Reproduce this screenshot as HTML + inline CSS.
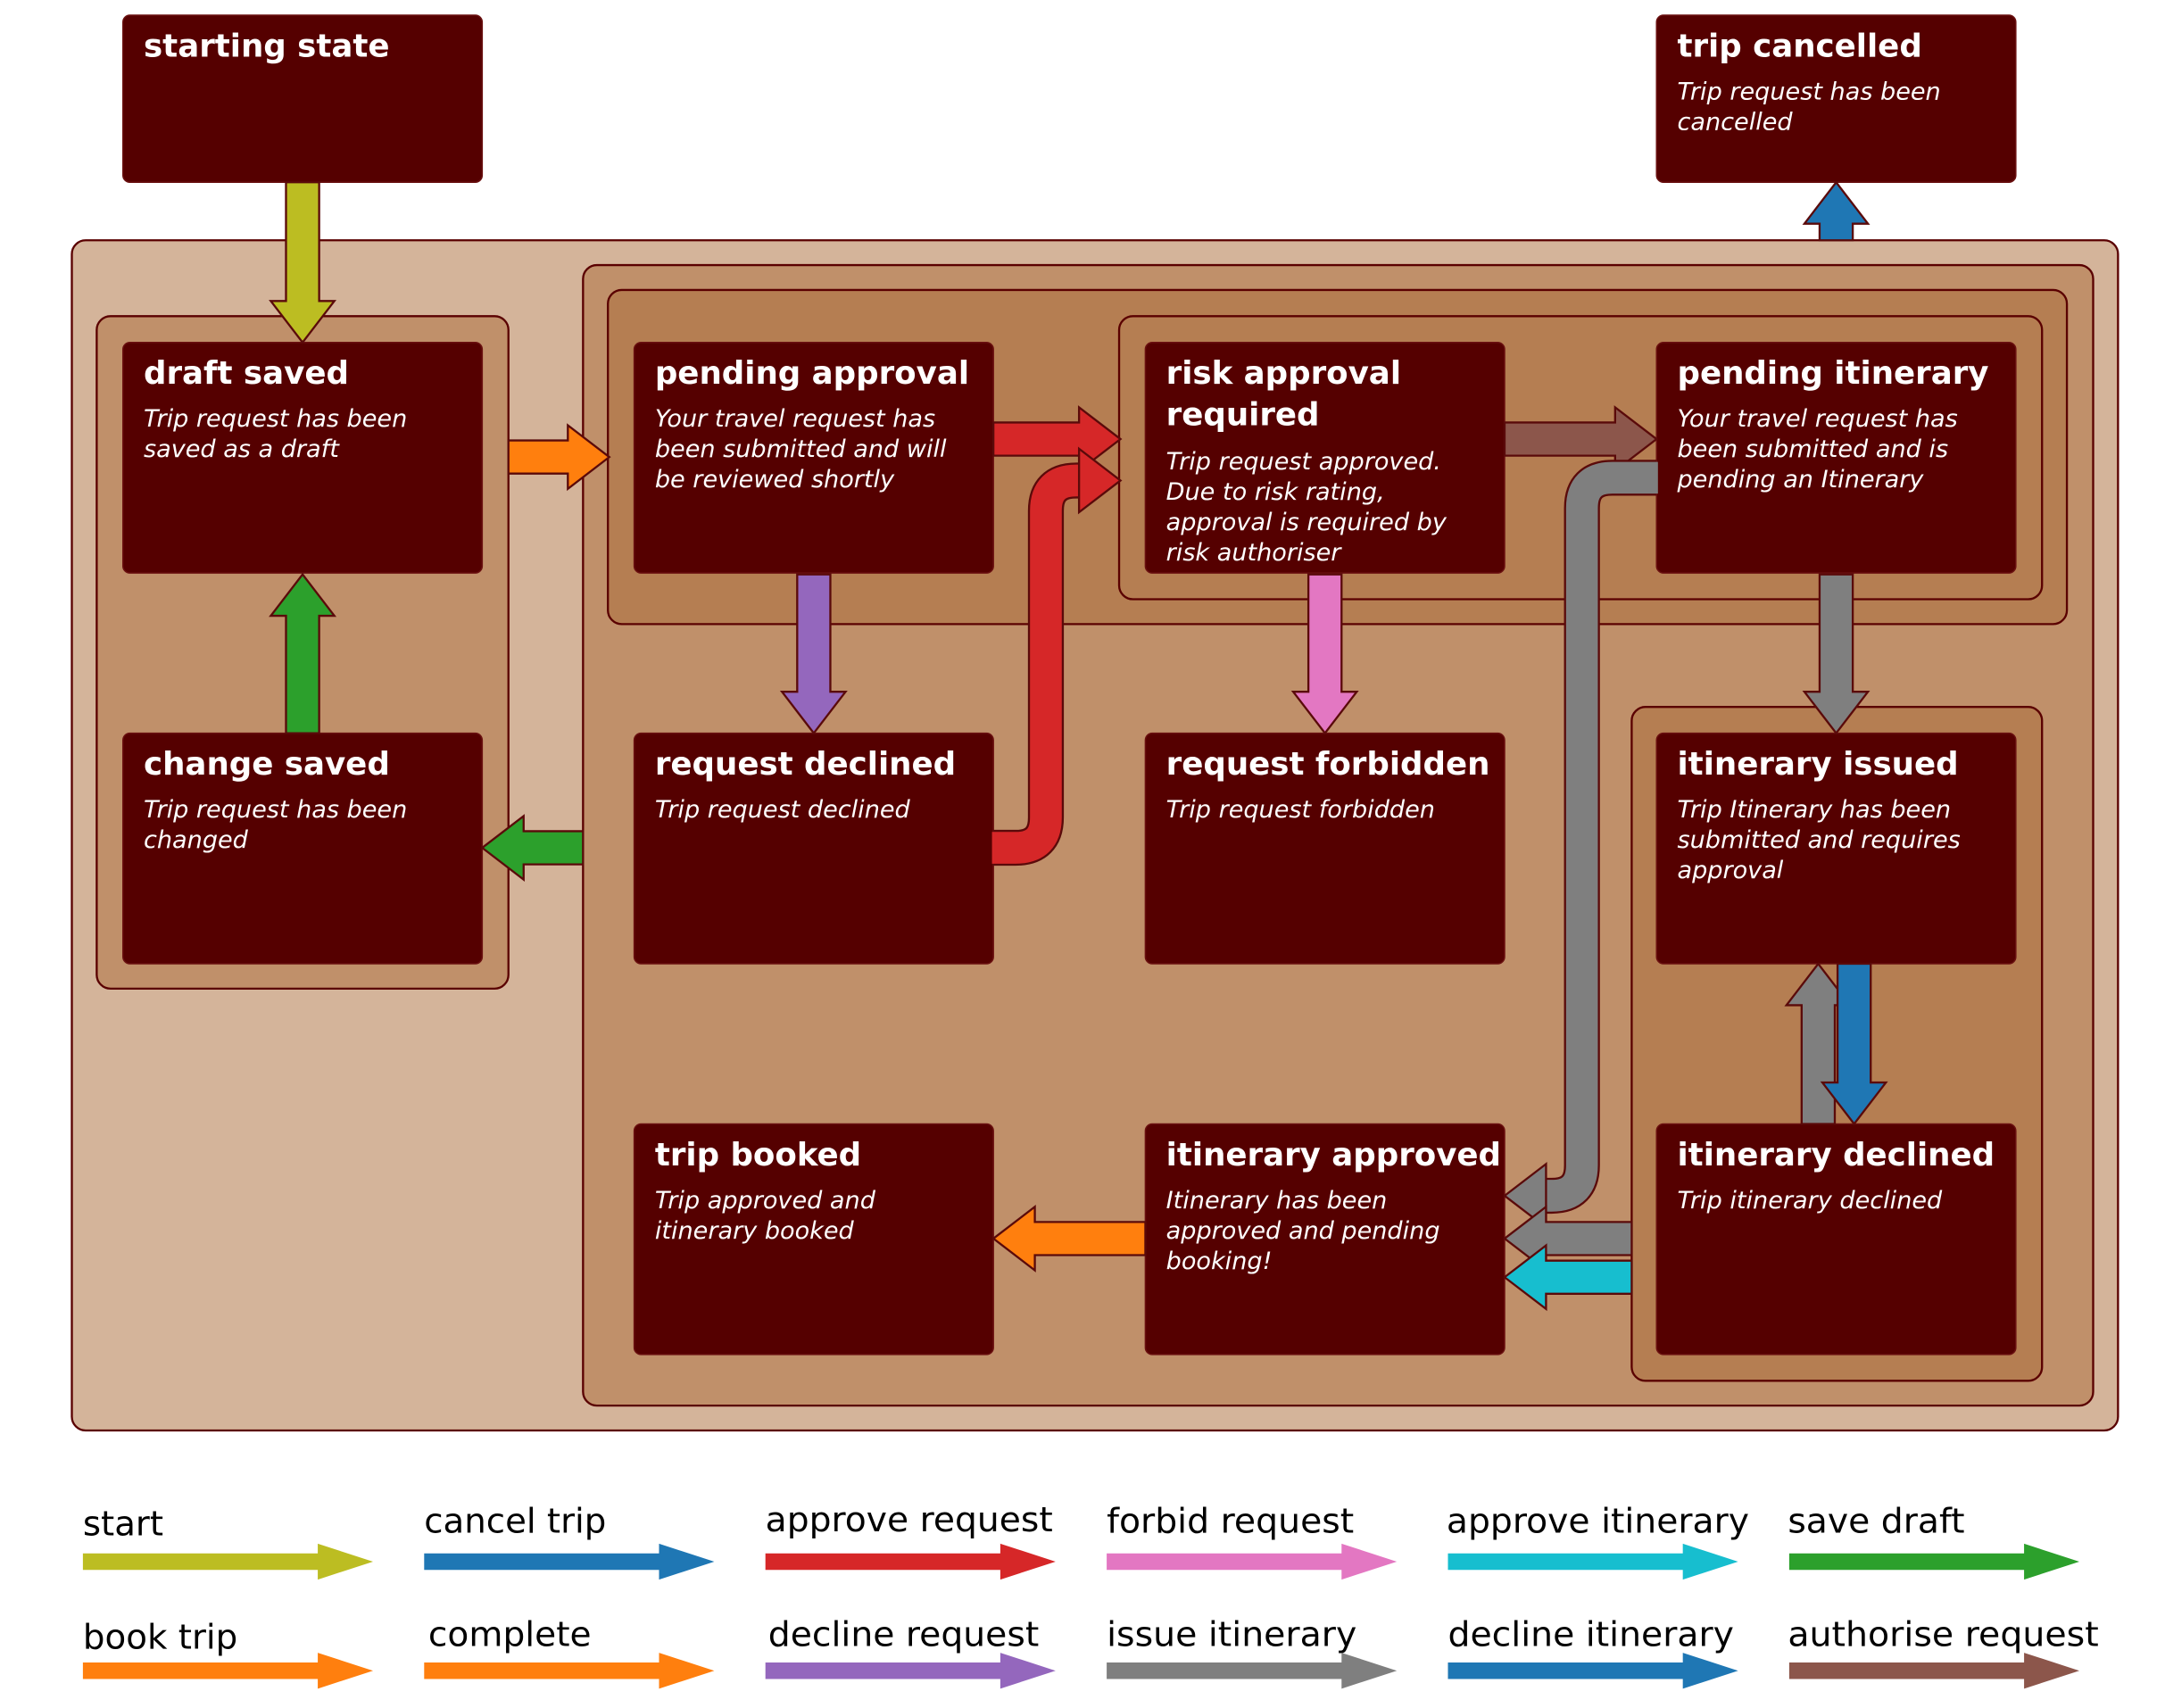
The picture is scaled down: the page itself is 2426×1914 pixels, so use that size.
<!DOCTYPE html>
<html><head><meta charset="utf-8"><style>
html,body{margin:0;padding:0;background:#fff;}
svg{display:block;}
.t{font-family:"DejaVu Sans","Liberation Sans",sans-serif;font-weight:bold;fill:#fff;font-size:23px;}
.d{font-family:"DejaVu Sans","Liberation Sans",sans-serif;font-style:italic;fill:#fff;font-size:17.5px;}
.l{font-family:"DejaVu Sans","Liberation Sans",sans-serif;fill:#000;font-size:25px;}
.n{fill:#550000;stroke:#6a1010;stroke-width:1;}
.a{stroke:#5a0a0a;stroke-width:1.5;stroke-linejoin:miter;}
</style></head><body>
<svg width="2426" height="1914" viewBox="0 0 1567 1237" preserveAspectRatio="none" xmlns="http://www.w3.org/2000/svg">
<rect x="52" y="174" width="1481" height="862" rx="10" fill="#d4b49a" stroke="#5a0000" stroke-width="1.5"/>
<rect x="70" y="229" width="298" height="487" rx="10" fill="#c0906a" stroke="#5a0000" stroke-width="1.5"/>
<rect x="422" y="192" width="1093" height="826" rx="10" fill="#c0906a" stroke="#5a0000" stroke-width="1.5"/>
<rect x="440" y="210" width="1056" height="242" rx="10" fill="#b57e52" stroke="#5a0000" stroke-width="1.5"/>
<rect x="810" y="229" width="668" height="205" rx="10" fill="#b57e52" stroke="#5a0000" stroke-width="1.5"/>
<rect x="1181" y="512" width="297" height="488" rx="10" fill="#b57e52" stroke="#5a0000" stroke-width="1.5"/>

<rect class="n" x="89" y="11" width="260" height="121" rx="5"/>
<text class="t" x="104" y="41">starting state</text>
<rect class="n" x="1199" y="11" width="260" height="121" rx="5"/>
<text class="t" x="1214" y="41">trip cancelled</text>
<text class="d" x="1214" y="72">Trip request has been</text>
<text class="d" x="1214" y="94">cancelled</text>

<rect class="n" x="89" y="248" width="260" height="167" rx="5"/>
<text class="t" x="104" y="278">draft saved</text>
<text class="d" x="104" y="309">Trip request has been</text>
<text class="d" x="104" y="331">saved as a draft</text>

<rect class="n" x="459" y="248" width="260" height="167" rx="5"/>
<text class="t" x="474" y="278">pending approval</text>
<text class="d" x="474" y="309">Your travel request has</text>
<text class="d" x="474" y="331">been submitted and will</text>
<text class="d" x="474" y="353">be reviewed shortly</text>

<rect class="n" x="829" y="248" width="260" height="167" rx="5"/>
<text class="t" x="844" y="278">risk approval</text>
<text class="t" x="844" y="308">required</text>
<text class="d" x="844" y="340">Trip request approved.</text>
<text class="d" x="844" y="362">Due to risk rating,</text>
<text class="d" x="844" y="384">approval is required by</text>
<text class="d" x="844" y="406">risk authoriser</text>

<rect class="n" x="1199" y="248" width="260" height="167" rx="5"/>
<text class="t" x="1214" y="278">pending itinerary</text>
<text class="d" x="1214" y="309">Your travel request has</text>
<text class="d" x="1214" y="331">been submitted and is</text>
<text class="d" x="1214" y="353">pending an Itinerary</text>

<rect class="n" x="89" y="531" width="260" height="167" rx="5"/>
<text class="t" x="104" y="561">change saved</text>
<text class="d" x="104" y="592">Trip request has been</text>
<text class="d" x="104" y="614">changed</text>

<rect class="n" x="459" y="531" width="260" height="167" rx="5"/>
<text class="t" x="474" y="561">request declined</text>
<text class="d" x="474" y="592">Trip request declined</text>

<rect class="n" x="829" y="531" width="260" height="167" rx="5"/>
<text class="t" x="844" y="561">request forbidden</text>
<text class="d" x="844" y="592">Trip request forbidden</text>

<rect class="n" x="1199" y="531" width="260" height="167" rx="5"/>
<text class="t" x="1214" y="561">itinerary issued</text>
<text class="d" x="1214" y="592">Trip Itinerary has been</text>
<text class="d" x="1214" y="614">submitted and requires</text>
<text class="d" x="1214" y="636">approval</text>

<rect class="n" x="459" y="814" width="260" height="167" rx="5"/>
<text class="t" x="474" y="844">trip booked</text>
<text class="d" x="474" y="875">Trip approved and</text>
<text class="d" x="474" y="897">itinerary booked</text>

<rect class="n" x="829" y="814" width="260" height="167" rx="5"/>
<text class="t" x="844" y="844">itinerary approved</text>
<text class="d" x="844" y="875">Itinerary has been</text>
<text class="d" x="844" y="897">approved and pending</text>
<text class="d" x="844" y="919">booking!</text>

<rect class="n" x="1199" y="814" width="260" height="167" rx="5"/>
<text class="t" x="1214" y="844">itinerary declined</text>
<text class="d" x="1214" y="875">Trip itinerary declined</text>

<polygon class="a" fill="#bcbd22" points="207,132 231,132 231,218 242,218 219,248 196,218 207,218"/>
<polygon class="a" fill="#ff7f0e" points="368,319 411,319 411,308 441,331 411,354 411,343 368,343"/>
<polygon class="a" fill="#2ca02c" points="207,531 207,446 196,446 219,416 242,446 231,446 231,531"/>
<polygon class="a" fill="#2ca02c" points="422,602 379,602 379,591 349,614 379,637 379,626 422,626"/>
<polygon class="a" fill="#d62728" points="719,306 781,306 781,295 811,318 781,341 781,330 719,330"/>
<path d="M719,614 H735 Q757,614 757,592 V370 Q757,348 779,348 H782" fill="none" stroke="#5a0a0a" stroke-width="26"/>
<path d="M718,614 H735 Q757,614 757,592 V370 Q757,348 779,348 H783" fill="none" stroke="#d62728" stroke-width="23"/>
<polygon class="a" fill="#d62728" points="781,325 811,348 781,371"/>
<polygon class="a" fill="#9467bd" points="577,416 601,416 601,501 612,501 589,531 566,501 577,501"/>
<polygon class="a" fill="#e377c2" points="947,416 971,416 971,501 982,501 959,531 936,501 947,501"/>
<polygon class="a" fill="#8c564b" points="1089,306 1169,306 1169,295 1199,318 1169,341 1169,330 1089,330"/>
<path d="M1199,346 H1167 Q1145,346 1145,368 V844 Q1145,866 1123,866 H1118" fill="none" stroke="#5a0a0a" stroke-width="26"/>
<path d="M1200,346 H1167 Q1145,346 1145,368 V844 Q1145,866 1123,866 H1117" fill="none" stroke="#7f7f7f" stroke-width="23"/>
<polygon class="a" fill="#7f7f7f" points="1119,843 1089,866 1119,889"/>
<polygon class="a" fill="#7f7f7f" points="1317,416 1341,416 1341,501 1352,501 1329,531 1306,501 1317,501"/>
<polygon class="a" fill="#1f77b4" points="1317,174 1317,162 1306,162 1329,132 1352,162 1341,162 1341,174"/>
<polygon class="a" fill="#7f7f7f" points="1304,814 1304,728 1293,728 1316,698 1339,728 1328,728 1328,814"/>
<polygon class="a" fill="#1f77b4" points="1330,698 1354,698 1354,784 1365,784 1342,814 1319,784 1330,784"/>
<polygon class="a" fill="#7f7f7f" points="1181,885 1119,885 1119,874 1089,897 1119,920 1119,909 1181,909"/>
<polygon class="a" fill="#17becf" points="1181,913 1119,913 1119,902 1089,925 1119,948 1119,937 1181,937"/>
<polygon class="a" fill="#ff7f0e" points="829,885 749,885 749,874 719,897 749,920 749,909 829,909"/>

<g>
<text class="l" x="60" y="1112">start</text>
<polygon fill="#bcbd22" points="60,1125 230,1125 230,1118 270,1131 230,1144 230,1137 60,1137"/>
<text class="l" x="307" y="1110">cancel trip</text>
<polygon fill="#1f77b4" points="307,1125 477,1125 477,1118 517,1131 477,1144 477,1137 307,1137"/>
<text class="l" x="554" y="1109" textLength="208" lengthAdjust="spacingAndGlyphs">approve request</text>
<polygon fill="#d62728" points="554,1125 724,1125 724,1118 764,1131 724,1144 724,1137 554,1137"/>
<text class="l" x="801" y="1110" textLength="179" lengthAdjust="spacingAndGlyphs">forbid request</text>
<polygon fill="#e377c2" points="801,1125 971,1125 971,1118 1011,1131 971,1144 971,1137 801,1137"/>
<text class="l" x="1047" y="1110" textLength="219" lengthAdjust="spacingAndGlyphs">approve itinerary</text>
<polygon fill="#17becf" points="1048,1125 1218,1125 1218,1118 1258,1131 1218,1144 1218,1137 1048,1137"/>
<text class="l" x="1294" y="1110" textLength="128" lengthAdjust="spacingAndGlyphs">save draft</text>
<polygon fill="#2ca02c" points="1295,1125 1465,1125 1465,1118 1505,1131 1465,1144 1465,1137 1295,1137"/>

<text class="l" x="60" y="1194" textLength="112" lengthAdjust="spacingAndGlyphs">book trip</text>
<polygon fill="#ff7f0e" points="60,1204 230,1204 230,1197 270,1210 230,1223 230,1216 60,1216"/>
<text class="l" x="310" y="1192" textLength="118" lengthAdjust="spacingAndGlyphs">complete</text>
<polygon fill="#ff7f0e" points="307,1204 477,1204 477,1197 517,1210 477,1223 477,1216 307,1216"/>
<text class="l" x="556" y="1192" textLength="196" lengthAdjust="spacingAndGlyphs">decline request</text>
<polygon fill="#9467bd" points="554,1204 724,1204 724,1197 764,1210 724,1223 724,1216 554,1216"/>
<text class="l" x="801" y="1192" textLength="181" lengthAdjust="spacingAndGlyphs">issue itinerary</text>
<polygon fill="#7f7f7f" points="801,1204 971,1204 971,1197 1011,1210 971,1223 971,1216 801,1216"/>
<text class="l" x="1048" y="1192" textLength="207" lengthAdjust="spacingAndGlyphs">decline itinerary</text>
<polygon fill="#1f77b4" points="1048,1204 1218,1204 1218,1197 1258,1210 1218,1223 1218,1216 1048,1216"/>
<text class="l" x="1294" y="1192" textLength="225" lengthAdjust="spacingAndGlyphs">authorise request</text>
<polygon fill="#8c564b" points="1295,1204 1465,1204 1465,1197 1505,1210 1465,1223 1465,1216 1295,1216"/>
</g>
</svg>
</body></html>
